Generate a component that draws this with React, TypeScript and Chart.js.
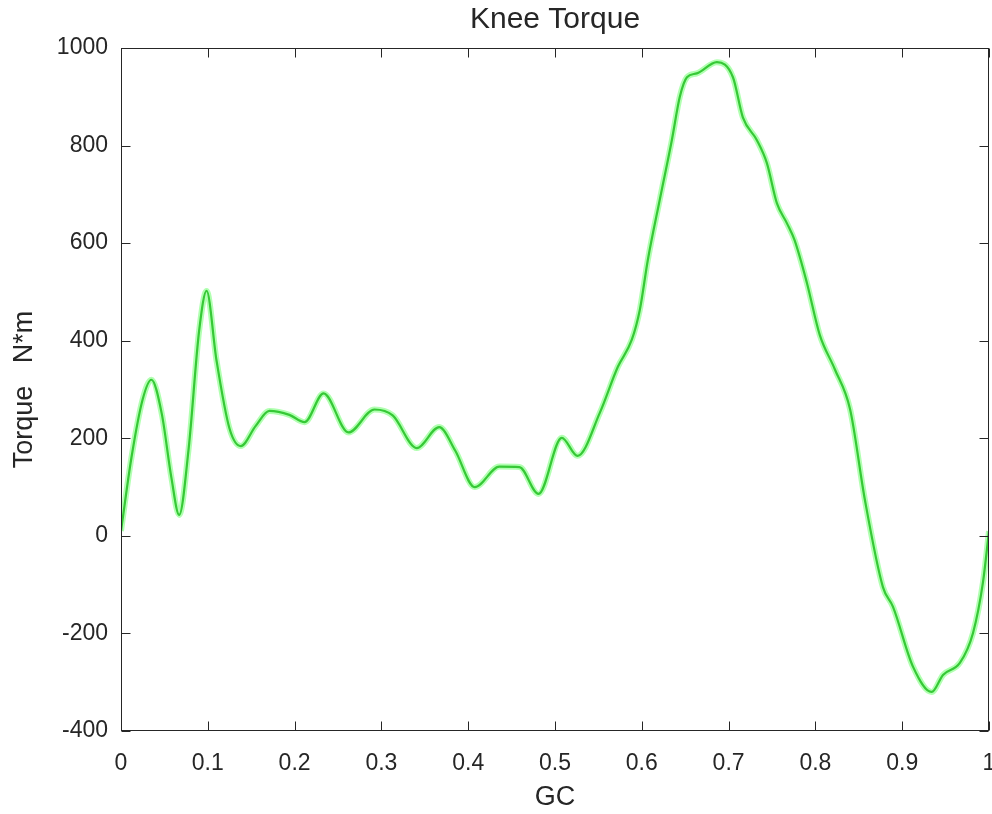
import React, { useEffect, useRef } from "react";
import { Chart, registerables } from "chart.js";

Chart.register(...registerables);

const gaitCycle = [
  0, 0.012, 0.025, 0.035, 0.047, 0.058, 0.067, 0.078, 0.09, 0.0986,
  0.11, 0.125, 0.138, 0.155, 0.171, 0.194, 0.2115, 0.2334, 0.262, 0.292,
  0.313, 0.3407, 0.3666, 0.385, 0.4075, 0.436, 0.459, 0.481, 0.5078, 0.526,
  0.5516, 0.5723, 0.5885, 0.5977, 0.607, 0.6207, 0.6346, 0.6438, 0.652, 0.6634,
  0.6865, 0.705, 0.7164, 0.7326, 0.7441, 0.7556, 0.7671, 0.776, 0.79, 0.805,
  0.8225, 0.84, 0.857, 0.8778, 0.8893, 0.9124, 0.934, 0.947, 0.9666, 0.9816,
  0.993, 1,
];

const torque = [
  10, 160, 280, 320, 250, 120, 43, 180, 420, 502,
  360, 220, 184, 225, 256, 248, 233, 292, 212, 259,
  247, 180, 223, 175, 100, 142, 141, 86, 201, 164,
  252, 346, 402, 463, 566, 689, 811, 900, 940, 948,
  971, 940, 858, 811, 764, 682, 641, 606, 520, 412,
  341, 259, 74, -105, -145, -268, -320, -285, -260, -199,
  -96, 10,
];

const xTickValues = [0, 0.1, 0.2, 0.3, 0.4, 0.5, 0.6, 0.7, 0.8, 0.9, 1];
const yTickValues = [-400, -200, 0, 200, 400, 600, 800, 1000];

const titleText = "Knee Torque";
const xLabel = "GC";
const yLabel = "Torque   N*m";

const FONT = "'Liberation Sans', Arial, Helvetica, sans-serif";
const INK = "#262626";

const boxPlugin = {
  id: "matlabBox",
  afterDraw(chart: any) {
    const { ctx, chartArea: a, scales } = chart;
    ctx.save();
    ctx.strokeStyle = INK;
    ctx.lineWidth = 1;
    const L = Math.round(a.left) + 0.5;
    const R = Math.round(a.right) - 0.5;
    const T = Math.round(a.top) + 0.5;
    const B = Math.round(a.bottom) - 0.5;
    ctx.strokeRect(L, T, R - L, B - T);
    const len = 9;
    ctx.beginPath();
    for (const v of xTickValues) {
      const px = Math.round(scales.x.getPixelForValue(v)) + 0.5;
      ctx.moveTo(px, B);
      ctx.lineTo(px, B - len);
      ctx.moveTo(px, T);
      ctx.lineTo(px, T + len);
    }
    for (const v of yTickValues) {
      const py = Math.round(scales.y.getPixelForValue(v)) + 0.5;
      ctx.moveTo(L, py);
      ctx.lineTo(L + len, py);
      ctx.moveTo(R, py);
      ctx.lineTo(R - len, py);
    }
    ctx.stroke();
    ctx.restore();
  },
};

export default function App() {
  const ref = useRef<HTMLCanvasElement | null>(null);

  useEffect(() => {
    if (!ref.current) return;
    const points = gaitCycle.map((x, i) => ({ x, y: torque[i] }));
    const chart = new Chart(ref.current, {
      type: "line",
      data: {
        datasets: [
          {
            data: points,
            borderColor: "#36c936",
            borderWidth: 2.2,
            pointRadius: 0,
            cubicInterpolationMode: "monotone",
            fill: false,
            order: 0,
          },
          {
            data: points,
            borderColor: "rgba(60,255,60,0.4)",
            borderWidth: 6,
            pointRadius: 0,
            cubicInterpolationMode: "monotone",
            fill: false,
            order: 1,
          },
        ],
      },
      options: {
        responsive: false,
        animation: false,
        layout: { autoPadding: false, padding: { left: 0, right: 3, top: 0, bottom: 0 } },
        plugins: {
          legend: { display: false },
          tooltip: { enabled: false },
          title: {
            display: true,
            fullSize: false,
            text: titleText,
            color: INK,
            font: { family: FONT, size: 30, weight: "normal" },
            padding: { top: 2, bottom: 10 },
          },
        },
        scales: {
          x: {
            type: "linear",
            min: 0,
            max: 1,
            afterBuildTicks: (s: any) => {
              s.ticks = xTickValues.map((v) => ({ value: v }));
            },
            afterFit: (s: any) => {
              s.height = 83;
              s.paddingLeft = 0;
              s.paddingRight = 0;
            },
            grid: { display: false, drawTicks: false },
            border: { display: false },
            ticks: {
              color: INK,
              font: { family: FONT, size: 23 },
              padding: 19,
              maxRotation: 0,
              autoSkip: false,
              callback: (v: any) => String(Number(Number(v).toFixed(1))),
            },
            title: {
              display: true,
              text: xLabel,
              color: INK,
              font: { family: FONT, size: 27 },
              padding: { top: 0, bottom: 0 },
            },
          },
          y: {
            type: "linear",
            min: -400,
            max: 1000,
            afterBuildTicks: (s: any) => {
              s.ticks = yTickValues.map((v) => ({ value: v }));
            },
            afterFit: (s: any) => {
              s.width = 121;
              s.paddingTop = 0;
              s.paddingBottom = 0;
            },
            grid: { display: false, drawTicks: false },
            border: { display: false },
            ticks: {
              color: INK,
              font: { family: FONT, size: 23 },
              padding: 13,
              autoSkip: false,
              callback: (v: any) => String(v),
            },
            title: {
              display: true,
              text: yLabel,
              color: INK,
              font: { family: FONT, size: 27 },
              padding: { top: 8, bottom: 0 },
            },
          },
        },
      },
      plugins: [boxPlugin],
    });
    return () => chart.destroy();
  }, []);

  return (
    <div style={{ position: "fixed", left: 0, top: 0, width: 992, height: 814, background: "#fff" }}>
      <canvas ref={ref} width={992} height={814} style={{ display: "block" }} />
    </div>
  );
}
